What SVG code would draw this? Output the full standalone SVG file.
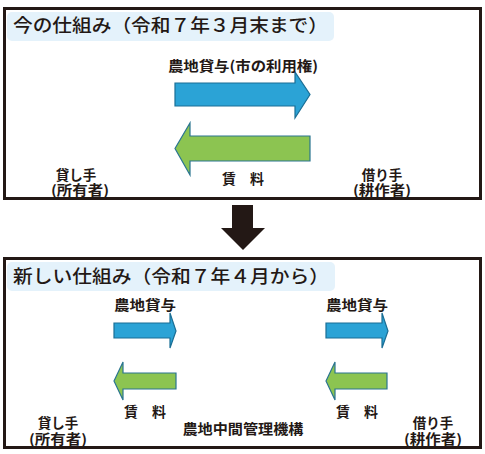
<svg xmlns="http://www.w3.org/2000/svg" width="485" height="454" viewBox="0 0 485 454">
<style>
.frame{fill:#fff;stroke:#231815;stroke-width:3}
.tbg{fill:#e4f2fb}
.title{font-family:"Noto Sans CJK JP","Noto Sans CJK SC",sans-serif;font-size:18px;font-weight:500;fill:#231815}
.lbl{font-family:"Noto Sans CJK JP","Noto Sans CJK SC",sans-serif;font-size:14px;font-weight:bold;fill:#231815;text-anchor:middle}
.sm{font-size:13.5px}
.blue{fill:#2ba3d6;stroke:#1a6e95;stroke-width:1.2}
.green{fill:#8cc451;stroke:#2a7590;stroke-width:1.2}
</style>
<rect width="485" height="454" fill="#fff"/>
<g id="old-system">
  <rect class="frame" x="4.5" y="8.5" width="476" height="190"/>
  <rect class="tbg" x="7" y="12" width="327" height="29" rx="5"/>
  <text class="title" x="13" y="32" textLength="315" lengthAdjust="spacingAndGlyphs">今の仕組み（令和７年３月末まで）</text>
</g>
<g id="old-lender">
  <text class="lbl sm" x="76" y="180">貸し手</text>
  <text class="lbl sm" x="80" y="195" textLength="58" lengthAdjust="spacingAndGlyphs">(所有者)</text>
</g>
<g id="old-borrower">
  <text class="lbl sm" x="382" y="180">借り手</text>
  <text class="lbl sm" x="382" y="195" textLength="58" lengthAdjust="spacingAndGlyphs">(耕作者)</text>
</g>
<g id="new-system">
  <rect class="frame" x="4.5" y="258.5" width="476" height="189"/>
  <rect class="tbg" x="7" y="262" width="328" height="29" rx="5"/>
  <text class="title" x="13" y="283" textLength="316" lengthAdjust="spacingAndGlyphs">新しい仕組み（令和７年４月から）</text>
</g>
<g id="new-lender">
  <text class="lbl sm" x="58" y="428">貸し手</text>
  <text class="lbl sm" x="58" y="444" textLength="58" lengthAdjust="spacingAndGlyphs">(所有者)</text>
</g>
<g id="new-agency">
  <text class="lbl" x="243" y="434" textLength="121" lengthAdjust="spacingAndGlyphs">農地中間管理機構</text>
</g>
<g id="new-borrower">
  <text class="lbl sm" x="433" y="428">借り手</text>
  <text class="lbl sm" x="433" y="444" textLength="58" lengthAdjust="spacingAndGlyphs">(耕作者)</text>
</g>
<g id="connectors">
  <path class="blue" d="M175 83H295V72L310 94.5L295 118V106H175Z"/>
  <text class="lbl" x="243" y="71" textLength="150" lengthAdjust="spacingAndGlyphs">農地貸与(市の利用権)</text>
  <path class="green" d="M310 136H190V123L175 148.5L190 175V161H310Z"/>
  <text class="lbl" x="243" y="184">賃　料</text>
  <path fill="#231815" d="M232 205H253V228H265L243 250L221 228H232Z"/>
  <path class="blue" d="M114 323H170V313L176 331L170 348V338H114Z"/>
  <text class="lbl" x="145" y="310" textLength="62" lengthAdjust="spacingAndGlyphs">農地貸与</text>
  <path class="green" d="M176 373H123V362L114 381L123 400V389H176Z"/>
  <text class="lbl" x="145" y="417">賃　料</text>
  <path class="blue" d="M326 323H382V313L388 331L382 348V338H326Z"/>
  <text class="lbl" x="357" y="310" textLength="62" lengthAdjust="spacingAndGlyphs">農地貸与</text>
  <path class="green" d="M387 373H335V362L326 381L335 400V389H387Z"/>
  <text class="lbl" x="357" y="417">賃　料</text>
</g>
</svg>
